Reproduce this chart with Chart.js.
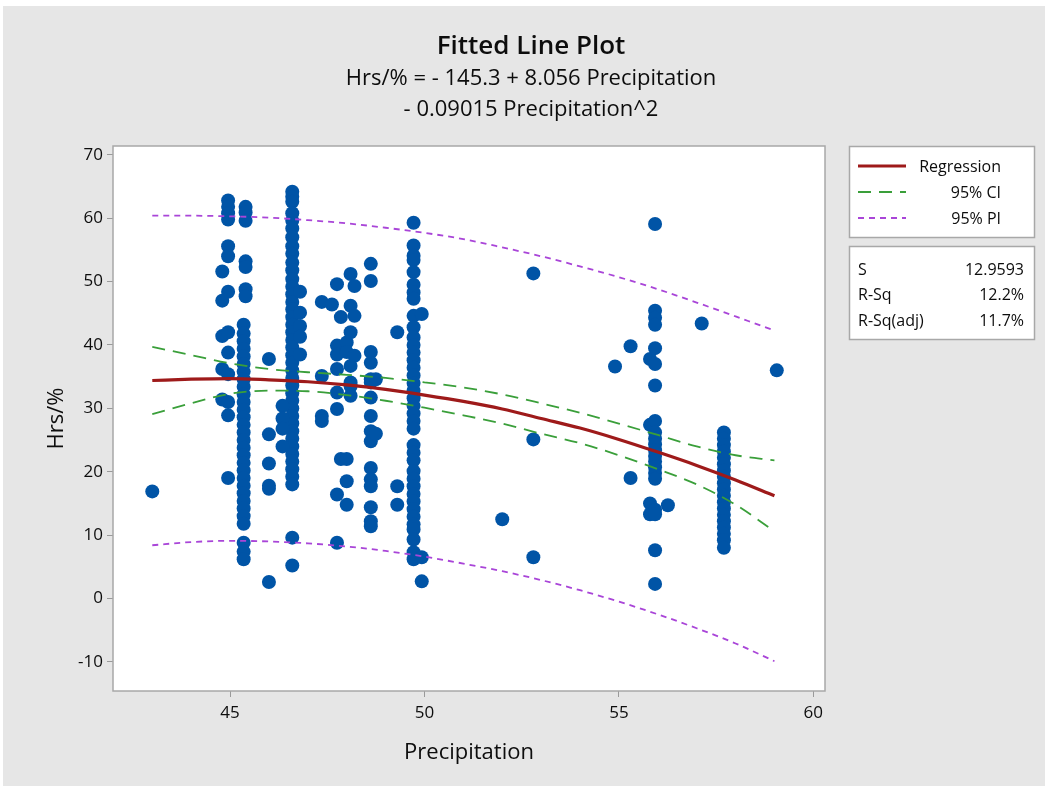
<!DOCTYPE html>
<html>
<head>
<meta charset="utf-8">
<script src="https://cdn.jsdelivr.net/npm/chart.js@4.4.0/dist/chart.umd.min.js"></script>
<style>
html,body{margin:0;padding:0;background:#fff;}
canvas{display:block;}
</style>
</head>
<body>
<canvas id="c" width="1045" height="786"></canvas>
<script>
// ---------- text ----------
const titleText = "Fitted Line Plot";
const subtitleLines = ["Hrs/% = - 145.3 + 8.056 Precipitation", "- 0.09015 Precipitation^2"];
const xAxisTitle = "Precipitation";
const yAxisTitle = "Hrs/%";
const legendLabels = ["Regression", "95% CI", "95% PI"];
const statNames = ["S", "R-Sq", "R-Sq(adj)"];
const statValues = ["12.9593", "12.2%", "11.7%"];

// ---------- ticks ----------
const xTicks = [45, 50, 55, 60];
const yTicks = [-10, 0, 10, 20, 30, 40, 50, 60, 70];

// ---------- fitted curve & bands ----------
const fitPrecip = [43, 44, 45, 46, 47, 48, 49, 50, 51, 52, 53, 54, 55, 56, 57, 58, 59];
const fitHrs  = [34.4, 34.6, 34.7, 34.5, 34.2, 33.7, 33.0, 32.1, 31.1, 29.9, 28.4, 26.9, 25.1, 23.1, 21.0, 18.7, 16.2];
const ciUpper = [39.7, 38.4, 37.1, 36.2, 35.7, 35.3, 34.8, 34.1, 33.3, 32.2, 30.8, 29.3, 27.6, 25.8, 24.0, 22.6, 21.8];
const ciLower = [29.1, 30.8, 32.3, 32.8, 32.7, 32.1, 31.2, 30.1, 28.9, 27.6, 26.0, 24.5, 22.6, 20.4, 18.0, 14.8, 10.6];
const piUpper = [60.4, 60.4, 60.3, 60.1, 59.7, 59.2, 58.5, 57.7, 56.7, 55.4, 54.0, 52.4, 50.7, 48.8, 46.7, 44.5, 42.3];
const piLower = [8.4, 8.9, 9.1, 9.0, 8.7, 8.2, 7.5, 6.6, 5.5, 4.3, 2.9, 1.3, -0.5, -2.5, -4.7, -7.1, -9.9];

// ---------- observations, grouped by precipitation value ----------
const obsPrecip = [43.0, 44.8, 44.95, 45.4, 45.35, 46.0, 46.6, 46.8, 46.35,
  47.36, 47.62, 47.75, 47.85, 48.0, 48.1, 48.2, 48.62, 48.75, 49.3, 49.72, 49.93,
  52.0, 52.8, 54.9, 55.3, 55.8, 55.93, 56.26, 57.13, 57.7, 59.06];
const obsHrs = [
  [16.9],
  [51.6, 47.0, 41.4, 36.2, 31.4],
  [62.8, 61.8, 60.8, 59.8, 55.6, 54.0, 48.4, 42.0, 38.8, 35.4, 31.0, 28.9, 19.0],
  [61.8, 60.9, 59.6, 53.2, 52.3, 48.8, 47.7],
  [43.2, 41.8, 40.6, 39.4, 38.2, 37.0, 35.8, 34.6, 33.4, 32.2, 31.0, 29.8, 28.6, 27.4, 26.2, 25.0, 23.8, 22.6, 21.4, 20.2, 19.0, 17.8, 16.6, 15.4, 14.2, 13.0, 11.8, 8.8, 7.4, 6.2],
  [37.8, 25.9, 21.3, 17.8, 17.3, 2.6],
  [64.2, 63.4, 62.6, 60.8, 59.6, 58.4, 57.0, 55.6, 54.4, 53.0, 51.8, 50.4, 49.2, 48.0, 46.8, 45.6, 44.4, 43.2, 42.0, 40.8, 39.6, 38.4, 37.2, 36.0, 34.8, 33.6, 32.4, 31.2, 30.0, 28.8, 27.6, 26.4, 25.2, 24.0, 22.8, 21.6, 20.4, 19.2, 18.0, 9.6, 5.2],
  [48.4, 45.1, 43.0, 41.3, 38.5],
  [30.4, 28.4, 26.8, 24.0],
  [46.8, 35.1, 28.8, 28.0],
  [46.4],
  [49.6, 39.9, 38.5, 36.2, 32.5, 29.9, 16.4, 8.8],
  [44.4, 22.0],
  [40.4, 38.9, 22.0, 18.5, 14.8],
  [51.2, 46.2, 42.0, 36.7, 34.1, 33.5, 32.0],
  [49.3, 44.6, 38.3],
  [52.8, 50.1, 38.9, 37.2, 34.6, 34.1, 31.7, 28.8, 26.4, 24.8, 20.6, 18.8, 17.7, 14.4, 12.2, 11.4],
  [34.6, 26.0],
  [42.0, 17.7, 14.8],
  [59.3, 55.7, 54.1, 53.4, 51.5, 49.5, 48.3, 47.3, 44.6, 42.8, 41.2, 40.0, 38.8, 37.6, 36.4, 35.2, 34.0, 32.8, 31.6, 30.4, 29.2, 28.0, 26.8, 24.2, 23.0, 21.8, 20.1, 18.9, 17.7, 16.5, 15.3, 14.1, 12.9, 11.7, 10.9, 9.3, 7.3, 6.2],
  [44.9, 6.5, 2.7],
  [12.5],
  [51.3, 25.1, 6.5],
  [36.6],
  [39.8, 19.0],
  [37.8, 27.4, 15.0, 13.3],
  [59.1, 45.4, 44.3, 43.2, 39.5, 37.0, 33.6, 28.0, 26.2, 25.2, 24.3, 23.4, 22.5, 21.6, 20.7, 19.8, 18.9, 14.0, 13.3, 7.6, 2.3],
  [14.7],
  [43.4],
  [26.2, 25.2, 24.2, 23.2, 22.2, 21.2, 20.2, 19.2, 18.2, 17.2, 16.2, 15.2, 14.2, 13.2, 12.2, 11.2, 10.2, 9.2, 8.0],
  [36.0]
];

// ---------- styles ----------
const FONT = "'Open Sans', 'Noto Sans', sans-serif";
const TEXT = '#0d0d0d';
const BG = '#e6e6e6';
const FRAME = '#a8a8a8';
const POINT = '#0054a6';
const REG = '#9e1a1a';
const CI = '#3a9f3a';
const PI = '#a945d8';

const pts = [];
obsPrecip.forEach((x, i) => obsHrs[i].forEach(y => pts.push({x, y})));
const curve = arr => fitPrecip.map((x, i) => ({x, y: arr[i]}));

const lineDs = (data, color, width, dash, order) => ({
  type: 'scatter', data, showLine: true, borderColor: color, backgroundColor: color,
  borderWidth: width, borderDash: dash, pointRadius: 0, pointHoverRadius: 0,
  cubicInterpolationMode: 'monotone', order
});

const decor = {
  id: 'decor',
  beforeDraw(chart) {
    const {ctx, chartArea: a} = chart;
    ctx.save();
    ctx.fillStyle = '#ffffff';
    ctx.fillRect(0, 0, chart.width, chart.height);
    ctx.fillStyle = BG;
    ctx.fillRect(3, 6, chart.width - 3, chart.height - 6);
    ctx.fillStyle = '#ffffff';
    ctx.fillRect(a.left, a.top, a.right - a.left, a.bottom - a.top);
    ctx.restore();
  },
  afterDraw(chart) {
    const {ctx, chartArea: a} = chart;
    ctx.save();
    ctx.strokeStyle = FRAME;
    ctx.lineWidth = 1.5;
    ctx.strokeRect(a.left, a.top, a.right - a.left, a.bottom - a.top);

    // titles
    ctx.fillStyle = TEXT;
    ctx.textAlign = 'center';
    ctx.textBaseline = 'middle';
    ctx.font = `600 26px ${FONT}`;
    ctx.fillText(titleText, 531, 47);
    ctx.font = `22px ${FONT}`;
    ctx.fillText(subtitleLines[0], 531, 79);
    ctx.fillText(subtitleLines[1], 531, 110);

    // legend box
    const bx = 849.5, bw = 185;
    ctx.fillStyle = '#ffffff';
    ctx.strokeStyle = FRAME;
    ctx.lineWidth = 1.5;
    ctx.fillRect(bx, 146.5, bw, 91); ctx.strokeRect(bx, 146.5, bw, 91);
    ctx.fillRect(bx, 246.5, bw, 93); ctx.strokeRect(bx, 246.5, bw, 93);
    const styles = [[REG, 3, []], [CI, 1.8, [13, 8]], [PI, 1.8, [6, 5]]];
    const rows = [166, 192, 218];
    ctx.font = `16px ${FONT}`;
    legendLabels.forEach((lab, i) => {
      ctx.strokeStyle = styles[i][0];
      ctx.lineWidth = styles[i][1];
      ctx.setLineDash(styles[i][2]);
      ctx.beginPath(); ctx.moveTo(858, rows[i]); ctx.lineTo(906, rows[i]); ctx.stroke();
      ctx.setLineDash([]);
      ctx.fillStyle = TEXT;
      ctx.textAlign = 'right';
      ctx.fillText(lab, 1001, rows[i] + 1);
    });
    const srows = [270, 295, 321];
    statNames.forEach((n, i) => {
      ctx.textAlign = 'left';
      ctx.fillText(n, 858, srows[i]);
      ctx.textAlign = 'right';
      ctx.fillText(statValues[i], 1024, srows[i]);
    });
    ctx.restore();
  }
};

new Chart(document.getElementById('c'), {
  type: 'scatter',
  data: {
    datasets: [
      lineDs(curve(fitHrs), REG, 3.2, [], 0),
      lineDs(curve(ciUpper), CI, 1.8, [13, 8], 1),
      lineDs(curve(ciLower), CI, 1.8, [13, 8], 1),
      lineDs(curve(piUpper), PI, 1.8, [6, 5], 2),
      lineDs(curve(piLower), PI, 1.8, [6, 5], 2),
      { type: 'scatter', data: pts, pointRadius: 7, pointBackgroundColor: POINT,
        pointBorderWidth: 0, pointBorderColor: POINT, order: 3 }
    ]
  },
  options: {
    responsive: false,
    animation: false,
    events: [],
    layout: { padding: { top: 146, right: 220, bottom: 0, left: 0 } },
    plugins: { legend: { display: false }, tooltip: { enabled: false } },
    scales: {
      x: {
        type: 'linear', min: 41.99, max: 60.3,
        afterBuildTicks: s => { s.ticks = xTicks.map(v => ({value: v})); },
        afterFit: s => { s.height = 95; },
        grid: { drawOnChartArea: false, drawTicks: true, tickLength: 6, color: '#9a9a9a' },
        border: { display: false },
        ticks: { padding: 6, color: TEXT, font: { family: FONT, size: 17 } },
        title: { display: true, text: xAxisTitle, color: TEXT,
                 font: { family: FONT, size: 22 }, padding: { top: 0, bottom: 20 } }
      },
      y: {
        type: 'linear', min: -14.6, max: 71.4,
        afterBuildTicks: s => { s.ticks = yTicks.map(v => ({value: v})); },
        afterFit: s => { s.width = 113; },
        grid: { drawOnChartArea: false, drawTicks: true, tickLength: 6, color: '#9a9a9a' },
        border: { display: false },
        ticks: { padding: 4, color: TEXT, font: { family: FONT, size: 17 } },
        title: { display: true, text: yAxisTitle, color: TEXT,
                 font: { family: FONT, size: 22 }, padding: { top: 44, bottom: 0 } }
      }
    }
  },
  plugins: [decor]
});
</script>
</body>
</html>
